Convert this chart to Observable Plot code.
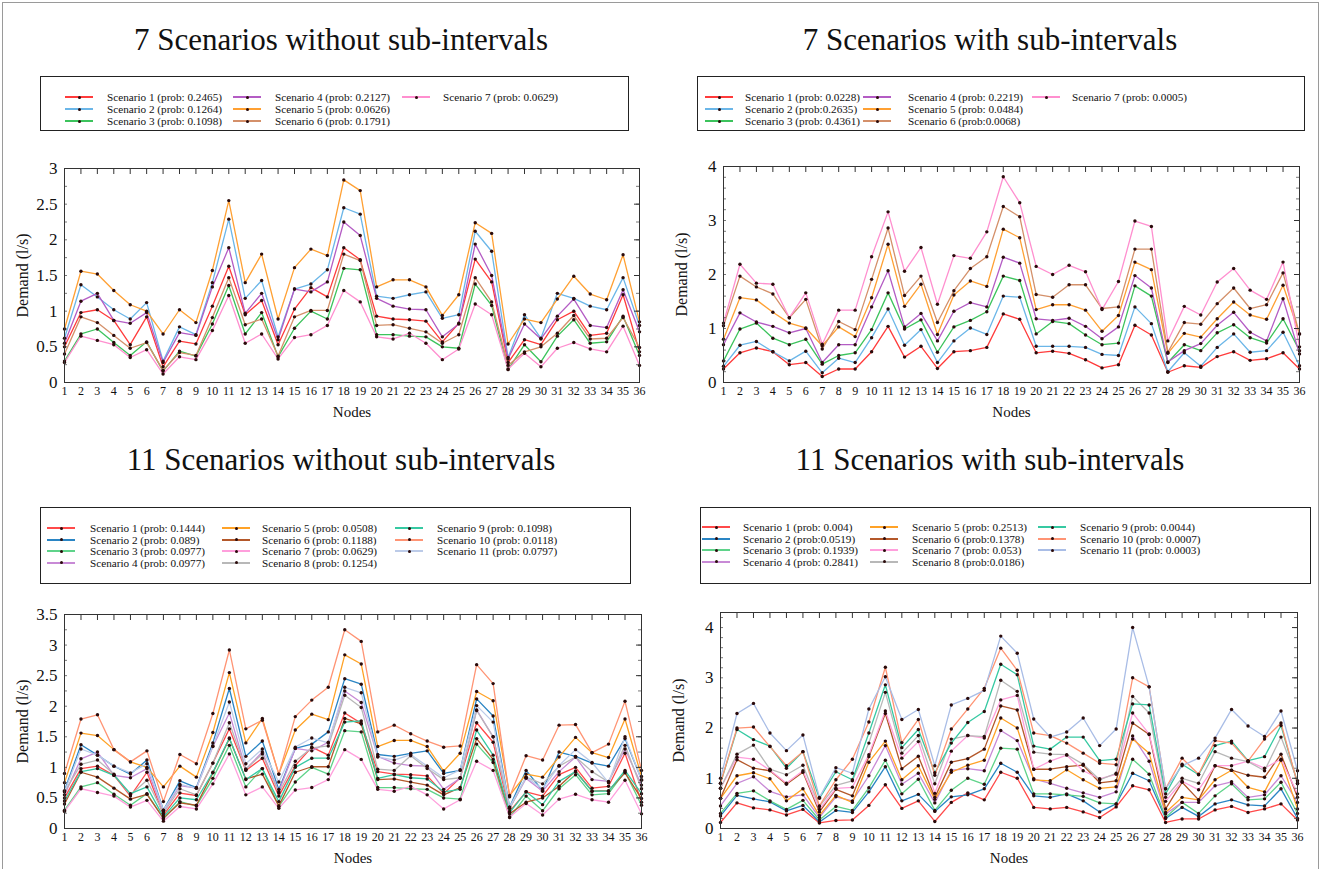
<!DOCTYPE html>
<html>
<head>
<meta charset="utf-8">
<script src="https://cdn.jsdelivr.net/npm/d3@7"></script>
<script src="https://cdn.jsdelivr.net/npm/@observablehq/plot@0.6"></script>
<style>
  html, body { margin: 0; padding: 0; background: #fff; }
  body { width: 1322px; height: 869px; position: relative; overflow: hidden; font-family: "Liberation Serif", "Times New Roman", serif; }
  .outer { position: absolute; left: 2px; top: 2px; width: 1315px; height: 875px; border: 1px solid #9a9a9a; }
  .title { position: absolute; font-size: 31px; color: #111; text-align: center; white-space: nowrap; }
  .legend { position: absolute; border: 1.5px solid #222; box-sizing: border-box; background: #fff; }
  .litem { position: absolute; font-size: 11.2px; color: #111; white-space: nowrap; line-height: 12px; }
  .sw { position: absolute; height: 2px; }
  .swdot { position: absolute; width: 3px; height: 3px; border-radius: 50%; background: #2a0a0a; }
  .panel { position: absolute; }
</style>
</head>
<body>
<div class="outer"></div>
<script>
// ---------- shared categories ----------
const nodes = [1,2,3,4,5,6,7,8,9,10,11,12,13,14,15,16,17,18,19,20,21,22,23,24,25,26,27,28,29,30,31,32,33,34,35,36];
const yLabel = "Demand (l/s)";
const xLabel = "Nodes";

// ---------- Panel A: 7 Scenarios without sub-intervals ----------
const aProbs = ["0.2465", "0.1264", "0.1098", "0.2127", "0.0626", "0.1791", "0.0629"];
const aColors = ["#ff3b3b", "#6bb6e8", "#3cc35c", "#b45cc4", "#ffa033", "#d4906a", "#ff8fcf"];
const aS1 = [0.50,0.98,1.02,0.87,0.53,0.92,0.22,0.58,0.54,1.07,1.63,0.95,1.15,0.53,1.03,1.33,1.20,1.89,1.72,0.93,0.89,0.88,0.86,0.57,0.83,1.73,1.41,0.28,0.60,0.53,0.88,1.00,0.66,0.69,1.23,0.43];
const aS2 = [0.62,1.37,1.20,1.02,0.89,1.12,0.30,0.78,0.67,1.40,2.29,1.18,1.43,0.64,1.31,1.38,1.58,2.45,2.36,1.21,1.18,1.23,1.27,0.90,0.95,2.12,1.84,0.35,0.95,0.62,1.25,1.18,1.07,1.02,1.47,0.80];
const aS3 = [0.30,0.68,0.75,0.56,0.38,0.57,0.16,0.44,0.37,0.82,1.36,0.68,0.98,0.36,0.76,1.00,0.89,1.60,1.58,0.67,0.67,0.65,0.64,0.50,0.48,1.38,1.08,0.18,0.53,0.29,0.65,0.88,0.55,0.57,0.93,0.38];
const aS4 = [0.55,1.14,1.25,0.87,0.83,0.98,0.28,0.70,0.66,1.34,1.89,0.97,1.25,0.60,1.31,1.27,1.41,2.25,2.06,1.18,1.07,1.03,1.02,0.64,0.82,1.94,1.50,0.33,0.82,0.61,0.93,1.17,0.80,0.77,1.30,0.71];
const aS5 = [0.75,1.56,1.52,1.29,1.09,1.00,0.68,1.02,0.84,1.57,2.55,1.40,1.80,0.89,1.61,1.87,1.78,2.84,2.69,1.34,1.44,1.44,1.34,0.94,1.23,2.24,2.09,0.54,0.89,0.84,1.17,1.49,1.24,1.16,1.79,0.85];
const aS6 = [0.40,0.92,0.84,0.66,0.48,0.56,0.17,0.42,0.38,0.91,1.47,0.81,0.89,0.37,0.92,1.01,1.01,1.80,1.71,0.80,0.81,0.76,0.71,0.55,0.67,1.47,1.13,0.24,0.43,0.50,0.69,0.94,0.61,0.62,0.91,0.49];
const aS7 = [0.28,0.65,0.59,0.53,0.35,0.46,0.12,0.36,0.32,0.73,1.22,0.55,0.68,0.33,0.63,0.67,0.80,1.29,1.13,0.64,0.61,0.69,0.55,0.32,0.47,1.10,0.95,0.19,0.41,0.22,0.48,0.56,0.47,0.43,0.79,0.24];

// ---------- Panel B: 7 Scenarios with sub-intervals ----------
const bProbs = [": 0.0228", ":0.2635", ": 0.4361", ": 0.2219", ": 0.0484", ":0.0068", ": 0.0005"];
const bColors = ["#ff3b3b", "#6bb6e8", "#3cc35c", "#b45cc4", "#ffa033", "#d4906a", "#ff8fcf"];
const bS1 = [0.25,0.55,0.64,0.57,0.33,0.37,0.11,0.25,0.25,0.57,1.04,0.47,0.67,0.26,0.57,0.59,0.65,1.27,1.17,0.55,0.58,0.54,0.42,0.27,0.33,1.06,0.88,0.19,0.31,0.28,0.48,0.57,0.41,0.44,0.55,0.25];
const bS2 = [0.30,0.69,0.76,0.57,0.40,0.58,0.18,0.45,0.37,0.83,1.36,0.69,0.98,0.37,0.77,1.01,0.89,1.60,1.58,0.67,0.67,0.67,0.65,0.52,0.50,1.40,1.09,0.20,0.55,0.30,0.65,0.90,0.56,0.59,0.93,0.31];
const bS3 = [0.40,0.99,1.10,0.82,0.70,0.80,0.34,0.50,0.55,0.98,1.66,0.99,1.16,0.56,1.03,1.15,1.31,1.97,1.89,0.90,1.13,1.09,0.88,0.70,0.73,1.79,1.60,0.37,0.70,0.59,0.92,1.07,0.83,0.73,1.18,0.59];
const bS4 = [0.70,1.29,1.12,1.04,0.92,1.00,0.37,0.70,0.70,1.40,2.07,1.03,1.28,0.77,1.32,1.48,1.40,2.32,2.21,1.18,1.15,1.19,1.04,0.81,1.03,1.98,1.75,0.38,0.59,0.72,1.06,1.30,0.93,0.77,1.55,0.53];
const bS5 = [0.80,1.57,1.53,1.30,1.10,1.01,0.68,1.03,0.85,1.57,2.56,1.41,1.82,0.89,1.62,1.88,1.78,2.84,2.68,1.35,1.44,1.44,1.34,0.95,1.24,2.23,2.09,0.54,0.91,0.84,1.18,1.49,1.25,1.17,1.80,0.90];
const bS6 = [1.05,1.97,1.77,1.64,1.20,1.54,0.62,1.13,0.98,1.91,2.86,1.61,1.97,1.11,1.70,2.11,2.33,3.26,3.07,1.63,1.58,1.81,1.81,1.37,1.40,2.47,2.47,0.56,1.11,1.08,1.46,1.75,1.37,1.44,2.03,0.90];
const bS7 = [1.10,2.19,1.84,1.82,1.20,1.66,0.71,1.34,1.34,2.33,3.16,2.06,2.50,1.45,2.35,2.30,2.79,3.81,3.33,2.15,2.00,2.17,2.05,1.35,1.87,2.99,2.89,0.77,1.41,1.25,1.86,2.11,1.71,1.54,2.23,0.66];

// ---------- Panel C: 11 Scenarios without sub-intervals ----------
const cProbs = [": 0.1444", ": 0.089", ": 0.0977", ": 0.0977", ": 0.0508", ": 0.1188", ": 0.0629", ": 0.1254", ": 0.1098", ": 0.0118", ": 0.0797"];
const cColors = ["#ff4a4a", "#2a85c4", "#5fd38a", "#c88ad6", "#ffa226", "#b4582a", "#ff9fdc", "#b8b8b8", "#36c9a2", "#ff9474", "#bccbe8"];
const cS8 = [0.60,1.05,1.12,0.89,0.55,0.79,0.25,0.65,0.55,1.07,1.73,0.97,1.22,0.58,1.10,1.32,1.35,2.18,1.98,0.97,0.95,1.19,0.98,0.80,0.83,1.93,1.50,0.33,0.84,0.73,1.02,1.17,0.93,0.76,1.36,0.65];
const cS9 = [0.45,0.93,0.98,0.87,0.57,0.68,0.19,0.50,0.47,0.92,1.48,0.80,0.98,0.44,1.00,1.15,1.15,1.74,1.76,0.82,0.88,0.83,0.81,0.60,0.64,1.61,1.20,0.26,0.60,0.39,0.77,0.93,0.61,0.61,0.95,0.57];
const cS10 = [0.90,1.79,1.86,1.29,1.09,1.27,0.44,1.21,1.06,1.88,2.92,1.63,1.77,0.89,1.83,2.10,2.31,3.25,3.06,1.58,1.69,1.55,1.43,1.33,1.35,2.68,2.37,0.52,1.19,1.12,1.69,1.70,1.24,1.38,2.08,0.95];
const cS11 = [0.60,1.30,1.20,1.02,0.91,1.06,0.30,0.72,0.66,1.35,2.07,1.06,1.30,0.76,1.33,1.48,1.40,2.31,2.22,1.17,1.12,1.21,1.02,0.83,0.96,2.01,1.74,0.35,0.84,0.65,1.03,1.29,1.08,0.75,1.50,0.79];

// ---------- Panel D: 11 Scenarios with sub-intervals ----------
const dProbs = [": 0.004", ":0.0519", ": 0.1939", ": 0.2841", ": 0.2513", ":0.1378", ": 0.053", ":0.0186", ": 0.0044", ": 0.0007", ": 0.0003"];
const dColors = ["#ff4a4a", "#2a85c4", "#5fd38a", "#c88ad6", "#ffa226", "#b4582a", "#ff9fdc", "#b8b8b8", "#36c9a2", "#ff9474", "#a9bde6"];
const dS1 = [0.12,0.51,0.41,0.37,0.27,0.38,0.11,0.16,0.17,0.46,0.87,0.40,0.55,0.14,0.52,0.71,0.57,1.12,1.00,0.42,0.39,0.42,0.33,0.22,0.43,0.85,0.77,0.12,0.19,0.19,0.37,0.44,0.32,0.39,0.49,0.17];
const dS2 = [0.25,0.66,0.59,0.53,0.35,0.46,0.13,0.36,0.32,0.73,1.23,0.55,0.68,0.34,0.63,0.67,0.79,1.30,1.12,0.65,0.62,0.69,0.55,0.33,0.49,1.10,0.95,0.20,0.42,0.24,0.49,0.57,0.47,0.45,0.79,0.20];
const dS3 = [0.30,0.70,0.75,0.55,0.38,0.56,0.17,0.44,0.36,0.81,1.36,0.69,0.98,0.36,0.76,1.00,0.88,1.60,1.58,0.69,0.69,0.67,0.64,0.51,0.49,1.38,1.08,0.22,0.52,0.30,0.65,0.89,0.57,0.59,0.92,0.30];
const dS4 = [0.45,0.90,1.03,0.74,0.63,0.67,0.22,0.63,0.55,1.05,1.65,0.88,1.10,0.51,1.16,1.19,1.15,1.95,1.75,0.99,0.90,0.80,0.71,0.62,0.73,1.84,1.34,0.29,0.52,0.52,0.85,0.93,0.62,0.67,1.05,0.52];
const dS5 = [0.60,1.05,1.11,0.99,0.55,0.79,0.26,0.66,0.52,1.32,1.74,0.97,1.25,0.58,1.12,1.26,1.36,2.20,2.00,0.97,0.95,1.17,0.97,0.80,0.83,1.78,1.50,0.32,0.62,0.57,0.97,1.16,0.82,0.73,1.36,0.39];
const dS6 = [0.60,1.37,1.20,1.15,0.88,1.12,0.33,0.78,0.65,1.43,2.29,1.19,1.44,0.62,1.32,1.39,1.58,2.44,2.36,1.18,1.18,1.23,1.26,0.91,0.95,2.10,1.87,0.39,0.92,0.57,1.25,1.16,1.06,1.02,1.48,0.62];
const dS7 = [0.80,1.42,1.38,1.16,0.90,1.15,0.38,0.80,0.82,1.47,2.34,1.40,1.73,0.70,1.54,1.85,1.80,2.56,2.65,1.18,1.34,1.46,1.15,0.99,1.08,2.30,1.88,0.54,0.94,0.77,1.25,1.25,1.34,1.20,1.38,0.69];
const dS8 = [0.80,1.48,1.66,1.18,1.07,1.26,0.44,0.86,0.95,1.70,2.71,1.50,1.85,0.89,1.78,1.85,1.83,2.95,2.73,1.52,1.48,1.47,1.28,0.97,1.10,2.63,2.30,0.62,1.00,0.90,1.53,1.40,1.33,1.15,1.82,0.95];
const dS9 = [0.90,1.97,1.77,1.64,1.20,1.53,0.60,1.13,0.97,1.90,2.86,1.61,1.97,1.11,1.70,2.11,2.33,3.27,3.06,1.64,1.58,1.82,1.82,1.35,1.38,2.48,2.46,0.69,1.28,1.07,1.65,1.74,1.35,1.43,2.05,0.90];
const dS10 = [0.90,2.00,2.02,1.63,1.25,1.53,0.45,0.97,1.38,2.12,3.21,1.71,2.17,1.06,1.98,2.38,2.79,3.59,3.15,1.90,1.85,1.70,1.50,1.30,1.27,3.00,2.82,0.79,1.40,1.08,1.75,1.70,1.34,1.78,2.10,0.89];
const dS11 = [1.00,2.29,2.49,1.90,1.55,1.86,0.62,1.21,1.10,2.38,3.02,2.17,2.37,1.25,2.46,2.59,2.75,3.83,3.49,2.18,1.82,1.92,2.20,1.65,1.98,4.00,2.82,0.79,1.25,1.40,1.80,2.37,2.04,1.83,2.34,1.15];

// ---------- panel definitions ----------
const panels = [
  { title: "7 Scenarios without sub-intervals", titleX: 341, titleY: 22,
    series: [aS1, aS2, aS3, aS4, aS5, aS6, aS7], colors: aColors,
    labels: aProbs.map((p, i) => `Scenario ${i + 1} (prob: ${p})`),
    legend: { left: 40, top: 76, width: 589, height: 55, rows: 3, rowY: [21, 33, 45], swX: [25, 193, 362], txX: [67, 235, 403] },
    svg: { left: 0, top: 150, width: 660, height: 275, ml: 64, mr: 21, mt: 18, mb: 43 },
    ymax: 3, yTicks: [0, 0.5, 1, 1.5, 2, 2.5, 3], minorStep: 0.25 },
  { title: "7 Scenarios with sub-intervals", titleX: 990, titleY: 22,
    series: [bS1, bS2, bS3, bS4, bS5, bS6, bS7], colors: bColors,
    labels: bProbs.map((p, i) => `Scenario ${i + 1} (prob${p})`),
    legend: { left: 697, top: 76, width: 608, height: 55, rows: 3, rowY: [21, 33, 45], swX: [8, 166, 335], txX: [48, 211, 375] },
    svg: { left: 660, top: 150, width: 662, height: 275, ml: 63, mr: 23, mt: 16, mb: 43 },
    ymax: 4, yTicks: [0, 1, 2, 3, 4], minorStep: 0.2 },
  { title: "11 Scenarios without sub-intervals", titleX: 341, titleY: 442,
    series: [aS1, aS2, aS3, aS4, aS5, aS6, aS7, cS8, cS9, cS10, cS11], colors: cColors,
    labels: cProbs.map((p, i) => `Scenario ${i + 1} (prob${p})`),
    legend: { left: 40, top: 507, width: 591, height: 77, rows: 4, rowY: [21, 32.5, 44, 55.5], swX: [7, 182, 355], txX: [50, 222, 397] },
    svg: { left: 0, top: 590, width: 660, height: 279, ml: 64, mr: 19, mt: 24, mb: 41 },
    ymax: 3.5, yTicks: [0, 0.5, 1, 1.5, 2, 2.5, 3, 3.5], minorStep: 0.25 },
  { title: "11 Scenarios with sub-intervals", titleX: 990, titleY: 442,
    series: [dS1, dS2, dS3, dS4, dS5, dS6, dS7, dS8, dS9, dS10, dS11], colors: dColors,
    labels: dProbs.map((p, i) => `Scenario ${i + 1} (prob${p})`),
    legend: { left: 700, top: 507, width: 611, height: 77, rows: 4, rowY: [20, 31.5, 43, 54.5], swX: [2, 170, 338], txX: [43, 212, 380] },
    svg: { left: 660, top: 590, width: 662, height: 279, ml: 60, mr: 25, mt: 22, mb: 41 },
    ymax: 4.3, yTicks: [0, 1, 2, 3, 4], minorStep: 0.2 }
];

function el(tag, cls, styles, text) {
  const e = document.createElement(tag);
  if (cls) e.className = cls;
  Object.assign(e.style, styles || {});
  if (text != null) e.textContent = text;
  document.body.appendChild(e);
  return e;
}

for (const p of panels) {
  // title
  el("div", "title", { left: (p.titleX - 300) + "px", top: p.titleY + "px", width: "600px" }, p.title);

  // legend
  const L = p.legend;
  el("div", "legend", { left: L.left + "px", top: L.top + "px", width: L.width + "px", height: L.height + "px" });
  p.labels.forEach((lab, i) => {
    const col = Math.floor(i / L.rows), row = i % L.rows;
    const cy = L.top + L.rowY[row];
    el("div", "sw", { left: (L.left + L.swX[col]) + "px", top: (cy - 1) + "px", width: "28px", background: p.colors[i] });
    el("div", "swdot", { left: (L.left + L.swX[col] + 12.5) + "px", top: (cy - 1.5) + "px" });
    el("div", "litem", { left: (L.left + L.txX[col]) + "px", top: (cy - 6) + "px" }, lab);
  });

  // tidy data for the chart
  const names = p.labels;
  const tidy = [];
  p.series.forEach((vals, si) => vals.forEach((v, ni) => tidy.push({ series: names[si], node: nodes[ni], value: v })));

  const S = p.svg;
  const pw = S.width - S.ml - S.mr, ph = S.height - S.mt - S.mb;
  const dxPerPx = (nodes[nodes.length - 1] - nodes[0]) / pw;
  const dyPerPx = p.ymax / ph;
  const minor = d3.range(0, p.ymax + 1e-9, p.minorStep).filter(v => v > 0 && v < p.ymax - 1e-9);
  const x0 = nodes[0], x1 = nodes[nodes.length - 1];

  const chart = Plot.plot({
    width: S.width, height: S.height,
    marginLeft: S.ml, marginRight: S.mr, marginTop: S.mt, marginBottom: S.mb,
    style: { fontFamily: "'Liberation Serif', 'Times New Roman', serif", fontSize: "16px", background: "transparent", color: "#111", overflow: "visible" },
    x: { domain: [x0, x1] },
    y: { domain: [0, p.ymax] },
    color: { domain: names, range: p.colors },
    marks: [
      Plot.line(tidy, { x: "node", y: "value", z: "series", stroke: "series", strokeWidth: 1.3 }),
      Plot.dot(tidy, { x: "node", y: "value", r: 1.7, fill: "#2a0a0a", stroke: null }),
      // inward ticks: top edge at each node
      Plot.ruleX(nodes, { x: d => d, y1: p.ymax, y2: p.ymax - 6 * dyPerPx, stroke: "#333", strokeWidth: 1 }),
      // inward ticks on left and right edges
      Plot.ruleY(minor, { y: d => d, x1: x1, x2: x1 - 3 * dxPerPx, stroke: "#555", strokeWidth: 0.8 }),
      Plot.ruleY(p.yTicks, { y: d => d, x1: x1, x2: x1 - 5 * dxPerPx, stroke: "#333", strokeWidth: 1 }),
      Plot.ruleY(minor, { y: d => d, x1: x0, x2: x0 + 3 * dxPerPx, stroke: "#555", strokeWidth: 0.8 }),
      Plot.frame({ stroke: "#333", strokeWidth: 1 }),
      Plot.axisY(p.yTicks, { tickSize: 0, tickPadding: 7, fontSize: 17, tickFormat: d => String(d), label: null }),
      Plot.axisX(nodes, { tickSize: 0, tickPadding: 4, fontSize: 12, tickFormat: d => String(d), label: null }),
      Plot.text([yLabel], { text: d => d, frameAnchor: "left", dx: -42, rotate: -90, fontSize: 16, lineAnchor: "middle", textAnchor: "middle" }),
      Plot.text([xLabel], { text: d => d, frameAnchor: "bottom", dy: 30, fontSize: 15, lineAnchor: "middle", textAnchor: "middle" })
    ]
  });
  chart.classList.add("panel");
  chart.style.position = "absolute";
  chart.style.left = S.left + "px";
  chart.style.top = S.top + "px";
  document.body.appendChild(chart);
}
</script>
</body>
</html>
